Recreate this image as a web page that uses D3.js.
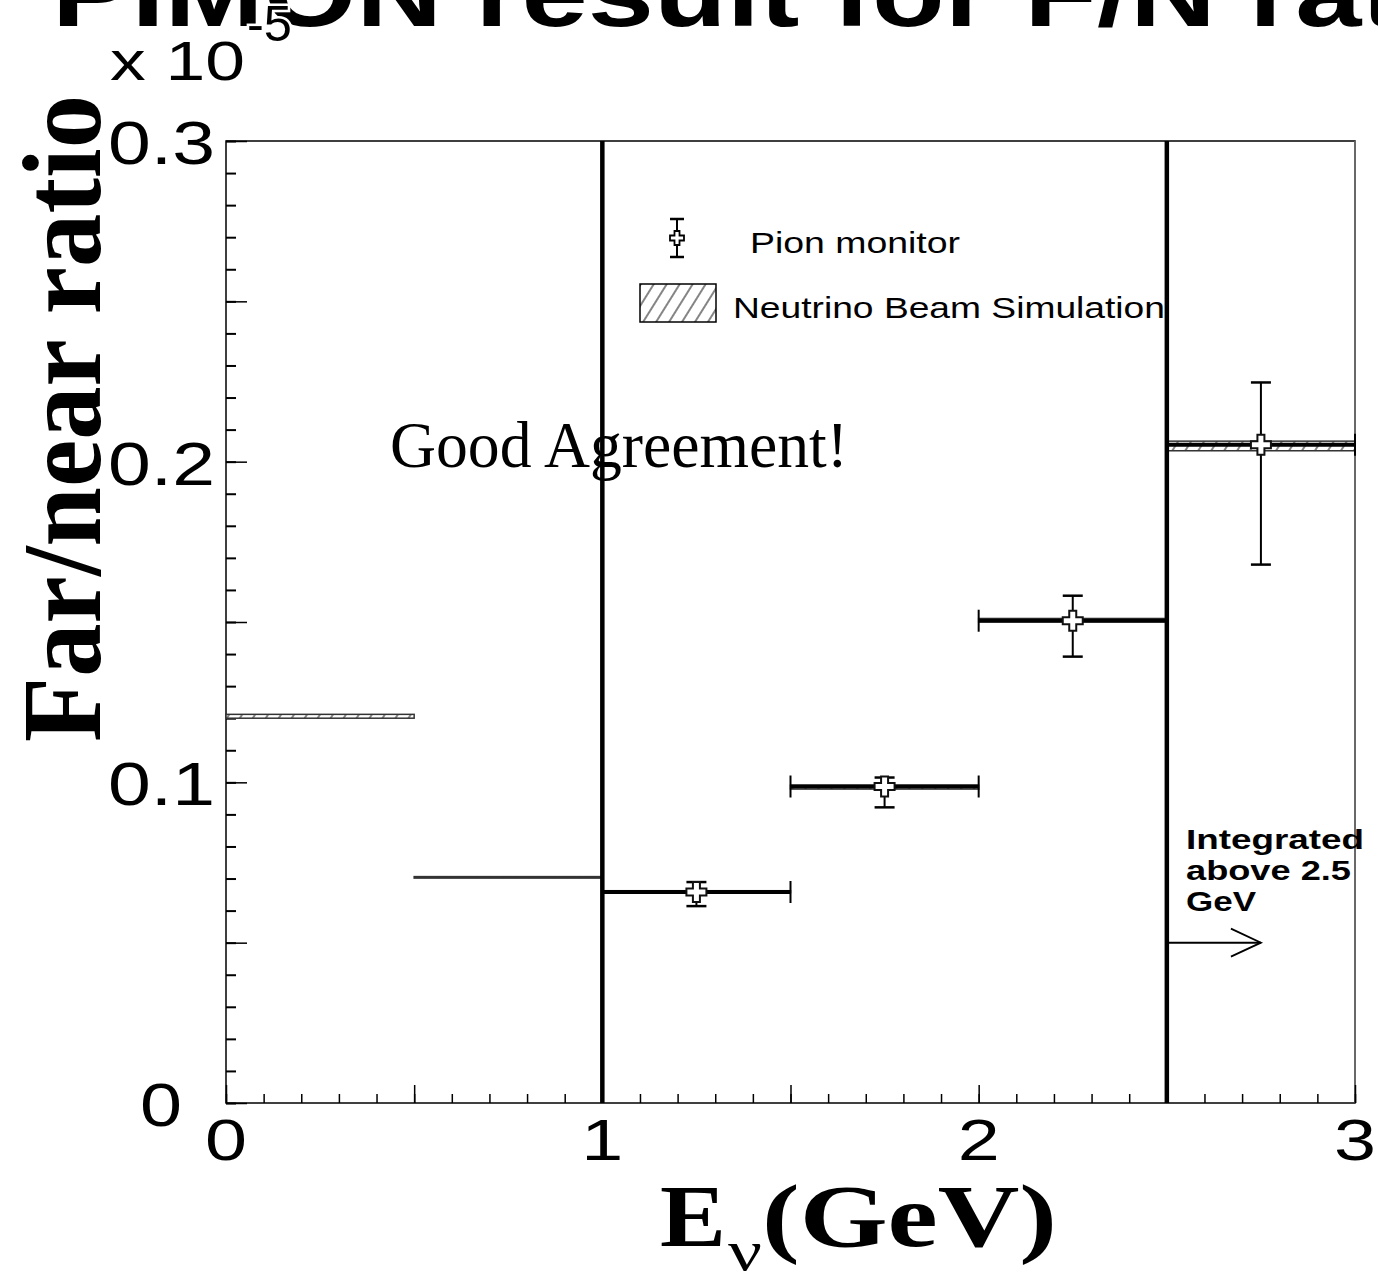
<!DOCTYPE html>
<html>
<head>
<meta charset="utf-8">
<script src="https://cdn.jsdelivr.net/npm/d3@7"></script>
<style>
  html, body { margin: 0; padding: 0; background: #fff; }
  svg { display: block; }
</style>
</head>
<body>
<script>
// ---------------- data (units of 10^-5) ----------------
const simBinLo = [0.0, 0.5, 1.0, 1.5, 2.0, 2.5];
const simBinHi = [0.5, 1.0, 1.5, 2.0, 2.5, 3.0];
const simValue = [0.1206, 0.0704, 0.0659, 0.0985, 0.1506, 0.2049];
const simErr   = [0.0006, 0.0002, 0.0003, 0.0006, 0.0005, 0.0015];

const pionX      = [1.25, 1.75, 2.25, 2.75];
const pionBinLo  = [1.0, 1.5, 2.0, 2.5];
const pionBinHi  = [1.5, 2.0, 2.5, 3.0];
const pionValue  = [0.0658, 0.0987, 0.1504, 0.2053];
const pionErrUp  = [0.0031, 0.0028, 0.0078, 0.0194];
const pionErrDown= [0.0044, 0.0065, 0.0112, 0.0374];

const dividerX = [1.0, 2.5];
const arrowFrom = [2.5, 0.05];
const arrowTo   = [2.75, 0.05];

const xTickValues = [0, 1, 2, 3];
const xTickLabels = ["0", "1", "2", "3"];
const yTickValues = [0, 0.1, 0.2, 0.3];
const yTickLabels = ["0", "0.1", "0.2", "0.3"];

const titleText = "PIMON result for F/N ratio";
const yTitle = "Far/near ratio";
const legendPion = "Pion monitor";
const legendSim = "Neutrino Beam Simulation";
const annotation = "Good Agreement!";
const integratedLines = ["Integrated", "above 2.5", "GeV"];

// ---------------- layout ----------------
const W = 1378, H = 1275;
const SANS = "'Liberation Sans', Arial, Helvetica, sans-serif";
const SERIF = "'Liberation Serif', 'Times New Roman', Times, serif";

const x = d3.scaleLinear().domain([0, 3]).range([226, 1355]);
const y = d3.scaleLinear().domain([0, 0.3]).range([1103, 141]);

const svg = d3.select("body").append("svg")
  .attr("width", W).attr("height", H)
  .attr("viewBox", `0 0 ${W} ${H}`);

svg.append("rect").attr("width", W).attr("height", H).attr("fill", "#fff");

// hatch pattern
const defs = svg.append("defs");
const pat = defs.append("pattern")
  .attr("id", "hatch")
  .attr("patternUnits", "userSpaceOnUse")
  .attr("width", 11).attr("height", 11)
  .attr("patternTransform", "rotate(32)");
pat.append("rect").attr("width", 11).attr("height", 11).attr("fill", "#fff");
pat.append("line").attr("x1", 1).attr("y1", 0).attr("x2", 1).attr("y2", 11)
  .attr("stroke", "#333").attr("stroke-width", 1.2);

// title (cut off at top, as in the original)
svg.append("text")
  .attr("x", 52).attr("y", 26)
  .attr("font-family", SANS).attr("font-weight", "bold")
  .attr("font-size", 95)
  .attr("textLength", 1455).attr("lengthAdjust", "spacingAndGlyphs")
  .text(titleText);

// x 10^-5
svg.append("text")
  .attr("x", 110).attr("y", 80)
  .attr("font-family", SANS).attr("font-size", 55)
  .attr("textLength", 135).attr("lengthAdjust", "spacingAndGlyphs")
  .text("x 10");
svg.append("text")
  .attr("x", 247).attr("y", 41)
  .attr("font-family", SANS).attr("font-size", 50)
  .attr("textLength", 45).attr("lengthAdjust", "spacingAndGlyphs")
  .attr("stroke", "#fff").attr("stroke-width", 5)
  .attr("paint-order", "stroke")
  .text("-5");

// frame
const plot = svg.append("g");
plot.append("rect")
  .attr("x", x(0)).attr("y", y(0.3))
  .attr("width", x(3) - x(0)).attr("height", y(0) - y(0.3))
  .attr("fill", "none").attr("stroke", "#000").attr("stroke-width", 1.5);
plot.append("line")
  .attr("x1", x(3)).attr("x2", x(3)).attr("y1", y(0.3)).attr("y2", y(0))
  .attr("stroke", "#777").attr("stroke-width", 1.5);

// y axis ticks (pointing inward)
const yMinor = d3.range(0, 0.3001, 0.01);
const yMid = d3.range(0, 0.3001, 0.05);
svg.append("g").attr("transform", `translate(${x(0)},0)`)
  .call(d3.axisLeft(y).tickValues(yMinor).tickSize(-10).tickFormat(""))
  .call(g => g.select(".domain").remove())
  .call(g => g.selectAll("line").attr("stroke-width", 2));
svg.append("g").attr("transform", `translate(${x(0)},0)`)
  .call(d3.axisLeft(y).tickValues(yMid).tickSize(-21).tickFormat(""))
  .call(g => g.select(".domain").remove())
  .call(g => g.selectAll("line").attr("stroke-width", 1.5));

// x axis ticks (pointing inward)
const xMinor = d3.range(0, 3.0001, 0.1);
const xMid = d3.range(0, 3.0001, 0.5);
svg.append("g").attr("transform", `translate(0,${y(0)})`)
  .call(d3.axisBottom(x).tickValues(xMinor).tickSize(-9).tickFormat(""))
  .call(g => g.select(".domain").remove())
  .call(g => g.selectAll("line").attr("stroke-width", 1.5));
svg.append("g").attr("transform", `translate(0,${y(0)})`)
  .call(d3.axisBottom(x).tickValues(xMid).tickSize(-18).tickFormat(""))
  .call(g => g.select(".domain").remove())
  .call(g => g.selectAll("line").attr("stroke-width", 1.5));

// y tick labels
svg.append("g").selectAll("text")
  .data(yTickValues)
  .join("text")
  .attr("x", (d, i) => yTickLabels[i].length === 1 ? 182 : 215)
  .attr("y", d => y(d) + 23)
  .attr("text-anchor", "end")
  .attr("font-family", SANS).attr("font-size", 62)
  .attr("textLength", (d, i) => yTickLabels[i].length === 1 ? 42 : 107)
  .attr("lengthAdjust", "spacingAndGlyphs")
  .text((d, i) => yTickLabels[i]);

// x tick labels
svg.append("g").selectAll("text")
  .data(xTickValues)
  .join("text")
  .attr("x", d => x(d))
  .attr("y", 1160)
  .attr("text-anchor", "middle")
  .attr("font-family", SANS).attr("font-size", 58)
  .attr("textLength", 42)
  .attr("lengthAdjust", "spacingAndGlyphs")
  .text((d, i) => xTickLabels[i]);

// y title
svg.append("text")
  .attr("transform", `translate(100,${(95 + 742) / 2}) rotate(-90)`)
  .attr("text-anchor", "middle")
  .attr("font-family", SERIF).attr("font-weight", "bold")
  .attr("font-size", 112)
  .attr("textLength", 647).attr("lengthAdjust", "spacingAndGlyphs")
  .text(yTitle);

// x title E_nu(GeV)
const xt = svg.append("g").attr("font-family", SERIF).attr("font-weight", "bold");
xt.append("text").attr("x", 660).attr("y", 1246).attr("font-size", 88)
  .attr("textLength", 66).attr("lengthAdjust", "spacingAndGlyphs").text("E");
xt.append("text").attr("x", 728).attr("y", 1270).attr("font-size", 56)
  .attr("font-weight", "normal")
  .attr("textLength", 34).attr("lengthAdjust", "spacingAndGlyphs").text("ν");
xt.append("text").attr("x", 762).attr("y", 1246).attr("font-size", 88)
  .attr("textLength", 295).attr("lengthAdjust", "spacingAndGlyphs").text("(GeV)");

// simulation bands
svg.append("g").selectAll("rect")
  .data(simValue)
  .join("rect")
  .attr("x", (d, i) => x(simBinLo[i]))
  .attr("width", (d, i) => x(simBinHi[i]) - x(simBinLo[i]))
  .attr("y", (d, i) => y(d + simErr[i]))
  .attr("height", (d, i) => Math.max(y(d - simErr[i]) - y(d + simErr[i]), 1.5))
  .attr("fill", "url(#hatch)")
  .attr("stroke", "#333").attr("stroke-width", 1.5);

// divider lines
svg.append("g").selectAll("line")
  .data(dividerX)
  .join("line")
  .attr("x1", d => x(d)).attr("x2", d => x(d))
  .attr("y1", y(0.3)).attr("y2", y(0))
  .attr("stroke", "#000").attr("stroke-width", 4.5);

// pion monitor data
const crossPath = (cx, cy, s, a) => {
  const h = s / 2, w = a / 2;
  return `M${cx - w},${cy - h}H${cx + w}V${cy - w}H${cx + h}V${cy + w}H${cx + w}V${cy + h}H${cx - w}V${cy + w}H${cx - h}V${cy - w}H${cx - w}Z`;
};

const pg = svg.append("g");
pionValue.forEach((v, i) => {
  const cx = x(pionX[i]), cy = y(v);
  const g = pg.append("g");
  g.append("line").attr("x1", x(pionBinLo[i])).attr("x2", x(pionBinHi[i]))
    .attr("y1", cy).attr("y2", cy).attr("stroke", "#000").attr("stroke-width", 4);
  [pionBinLo[i], pionBinHi[i]].forEach(b => {
    g.append("line").attr("x1", x(b)).attr("x2", x(b))
      .attr("y1", cy - 11).attr("y2", cy + 11)
      .attr("stroke", "#000").attr("stroke-width", 2);
  });
  const yt = y(v + pionErrUp[i]), yb = y(v - pionErrDown[i]);
  g.append("line").attr("x1", cx).attr("x2", cx).attr("y1", yt).attr("y2", yb)
    .attr("stroke", "#000").attr("stroke-width", 2);
  [yt, yb].forEach(yy => {
    g.append("line").attr("x1", cx - 10).attr("x2", cx + 10)
      .attr("y1", yy).attr("y2", yy)
      .attr("stroke", "#000").attr("stroke-width", 2.5);
  });
  g.append("path").attr("d", crossPath(cx, cy, 20, 7))
    .attr("fill", "#fff").attr("stroke", "#111").attr("stroke-width", 2);
});

// legend
const lg = svg.append("g");
lg.append("line").attr("x1", 677).attr("x2", 677).attr("y1", 219).attr("y2", 257)
  .attr("stroke", "#000").attr("stroke-width", 2);
[219, 257].forEach(yy => lg.append("line").attr("x1", 670).attr("x2", 684)
  .attr("y1", yy).attr("y2", yy).attr("stroke", "#000").attr("stroke-width", 2.5));
lg.append("path").attr("d", crossPath(677, 238, 14, 5))
  .attr("fill", "#fff").attr("stroke", "#000").attr("stroke-width", 1.8);
lg.append("text").attr("x", 750).attr("y", 253)
  .attr("font-family", SANS).attr("font-size", 30)
  .attr("textLength", 210).attr("lengthAdjust", "spacingAndGlyphs")
  .text(legendPion);
lg.append("rect").attr("x", 640).attr("y", 284).attr("width", 76).attr("height", 38)
  .attr("fill", "url(#hatch)").attr("stroke", "#000").attr("stroke-width", 1.5);
lg.append("text").attr("x", 733).attr("y", 318)
  .attr("font-family", SANS).attr("font-size", 30)
  .attr("textLength", 432).attr("lengthAdjust", "spacingAndGlyphs")
  .text(legendSim);

// annotation
svg.append("text").attr("x", 390).attr("y", 467)
  .attr("font-family", SERIF).attr("font-size", 66)
  .attr("textLength", 458).attr("lengthAdjust", "spacingAndGlyphs")
  .text(annotation);

// integrated note
const lineLens = [178, 165, 70];
svg.append("g").selectAll("text")
  .data(integratedLines)
  .join("text")
  .attr("x", 1186)
  .attr("y", (d, i) => 849 + i * 31)
  .attr("font-family", SANS).attr("font-weight", "bold").attr("font-size", 27)
  .attr("textLength", (d, i) => lineLens[i]).attr("lengthAdjust", "spacingAndGlyphs")
  .text(d => d);

// arrow
const ax0 = x(arrowFrom[0]), ay = y(arrowFrom[1]), ax1 = x(arrowTo[0]);
svg.append("line").attr("x1", ax0).attr("x2", ax1).attr("y1", ay).attr("y2", ay)
  .attr("stroke", "#000").attr("stroke-width", 2);
svg.append("path")
  .attr("d", `M${ax1 - 30},${ay - 14}L${ax1},${ay}L${ax1 - 30},${ay + 14}`)
  .attr("fill", "none").attr("stroke", "#000").attr("stroke-width", 1.8);
</script>
</body>
</html>
